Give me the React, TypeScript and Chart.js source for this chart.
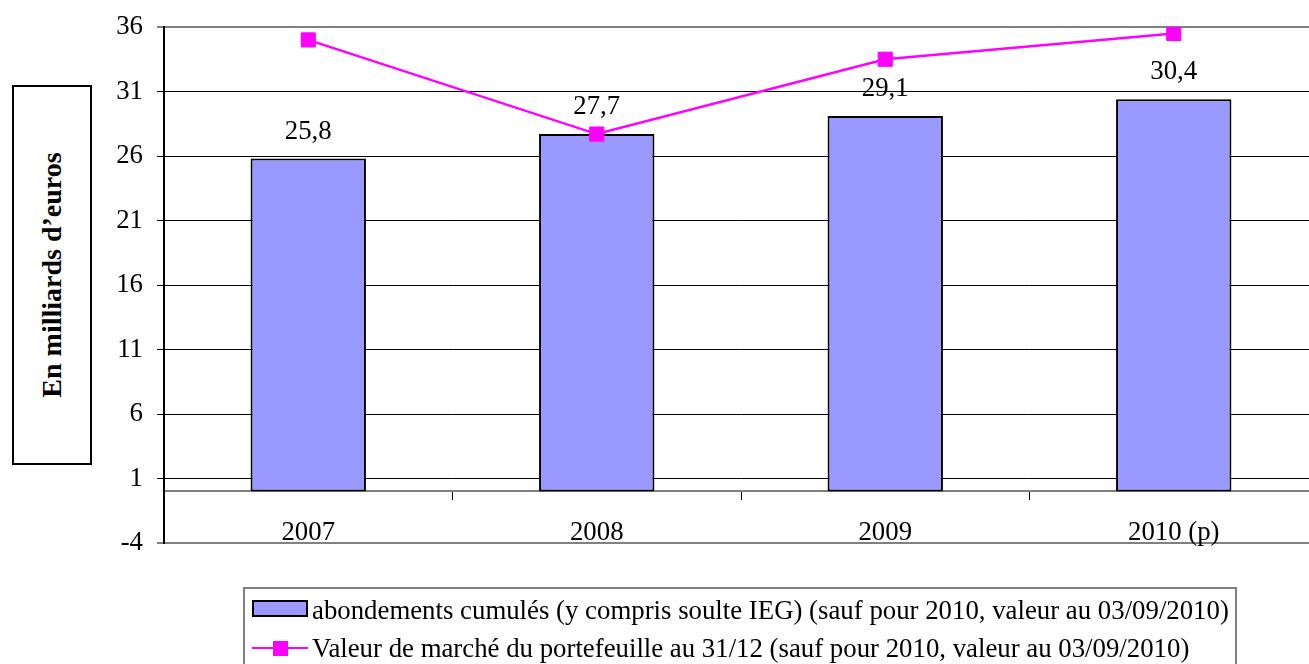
import React, { useEffect, useRef } from "react";
import { Chart, registerables } from "chart.js";

Chart.register(...registerables);

const categories = ["2007", "2008", "2009", "2010 (p)"];
const abondements = [25.8, 27.7, 29.1, 30.4];
const valeurMarche = [35.0, 27.7, 33.5, 35.5];
const yMin = -4;
const yMax = 36;
const yStep = 5;
const barLabel =
  "abondements cumulés (y compris soulte IEG) (sauf pour 2010, valeur au 03/09/2010)";
const lineLabel =
  "Valeur de marché du portefeuille au 31/12 (sauf pour 2010, valeur au 03/09/2010)";
const yTitle = "En milliards d’euros";

const FONT = '"Liberation Serif", "Times New Roman", serif';
const FS = 26.8;

const valueLabels = {
  id: "valueLabels",
  afterDatasetsDraw(chart: any) {
    const ctx = chart.ctx;
    const meta = chart.getDatasetMeta(0);
    ctx.save();
    ctx.font = `${FS}px ${FONT}`;
    ctx.fillStyle = "#000";
    ctx.textAlign = "center";
    ctx.textBaseline = "middle";
    meta.data.forEach((el: any, i: number) => {
      ctx.fillText(String(abondements[i]).replace(".", ","), el.x, el.y - 27);
    });
    ctx.restore();
  },
};

export default function App() {
  const ref = useRef<HTMLCanvasElement | null>(null);

  useEffect(() => {
    if (!ref.current) return;
    const chart = new Chart(ref.current, {
      type: "bar",
      data: {
        labels: categories,
        datasets: [
          {
            type: "bar",
            label: barLabel,
            data: abondements,
            backgroundColor: "#9999FF",
            borderColor: "#000",
            borderWidth: 2,
            borderSkipped: false,
            barPercentage: 0.4,
            categoryPercentage: 1.0,
            order: 2,
          } as any,
          {
            type: "line",
            label: lineLabel,
            data: valeurMarche,
            borderColor: "#FF00FF",
            backgroundColor: "#FF00FF",
            borderWidth: 2.5,
            pointStyle: "rect",
            pointRadius: 10,
            pointBackgroundColor: "#FF00FF",
            pointBorderColor: "#FF00FF",
            pointBorderWidth: 1,
            tension: 0,
            order: 1,
          } as any,
        ],
      },
      options: {
        responsive: false,
        animation: false,
        layout: { padding: { left: 0, top: 27, right: 3, bottom: 121 } },
        plugins: {
          legend: { display: false },
          tooltip: { enabled: false },
        },
        scales: {
          x: {
            position: { y: 0 } as any,
            offset: true,
            grid: {
              offset: true,
              drawOnChartArea: false,
              drawTicks: true,
              tickLength: 8,
              color: "#000",
              lineWidth: 1,
            },
            border: { color: "#808080", width: 2 },
            ticks: {
              font: { family: FONT, size: FS },
              color: "#000",
              padding: 17,
              maxRotation: 0,
            },
            afterFit: (s: any) => {
              s.paddingLeft = 0;
              s.paddingRight = 0;
              s.paddingTop = 0;
              s.paddingBottom = 0;
            },
          } as any,
          y: {
            min: yMin,
            max: yMax,
            ticks: {
              stepSize: yStep,
              font: { family: FONT, size: FS },
              color: "#000",
              padding: 14,
            },
            grid: {
              color: (c: any) =>
                c.tick && (c.tick.value === yMax || c.tick.value === yMin) ? "#808080" : "#000",
              lineWidth: (c: any) =>
                c.tick && (c.tick.value === yMax || c.tick.value === yMin) ? 2 : 1,
              tickLength: 7,
              tickColor: "#000",
              tickWidth: 1,
            },
            border: { color: "#000", width: 2 },
            afterFit: (s: any) => {
              s.width = 164;
              s.paddingTop = 0;
              s.paddingBottom = 0;
            },
          } as any,
        },
      },
      plugins: [valueLabels],
    });
    return () => chart.destroy();
  }, []);

  const textStyle: React.CSSProperties = {
    position: "absolute",
    fontFamily: FONT,
    fontSize: FS,
    lineHeight: "30px",
    whiteSpace: "nowrap",
    color: "#000",
  };

  return (
    <div
      style={{
        position: "fixed",
        left: 0,
        top: 0,
        width: 1309,
        height: 664,
        overflow: "hidden",
        background: "#fff",
      }}
    >
      <canvas
        ref={ref}
        width={1329}
        height={664}
        style={{ position: "absolute", left: 0, top: 0, width: 1329, height: 664 }}
      />
      {/* Y axis title box */}
      <div
        style={{
          position: "absolute",
          left: 12,
          top: 85,
          width: 80,
          height: 380,
          border: "2px solid #000",
          boxSizing: "border-box",
          background: "#fff",
        }}
      >
        <div
          style={{
            position: "absolute",
            left: "50%",
            top: "50%",
            transform: "translate(-50%, -50%) rotate(-90deg)",
            fontFamily: FONT,
            fontWeight: "bold",
            fontSize: 28,
            whiteSpace: "nowrap",
            color: "#000",
          }}
        >
          {yTitle}
        </div>
      </div>
      {/* Legend */}
      <div
        style={{
          position: "absolute",
          left: 243,
          top: 587,
          width: 994,
          height: 120,
          border: "2px solid #808080",
          boxSizing: "border-box",
        }}
      />
      <div
        style={{
          position: "absolute",
          left: 252,
          top: 600,
          width: 56,
          height: 17,
          background: "#9999FF",
          border: "2px solid #000",
          boxSizing: "border-box",
        }}
      />
      <div style={{ ...textStyle, left: 312, top: 610 - 15 }}>{barLabel}</div>
      <div
        style={{
          position: "absolute",
          left: 252,
          top: 647,
          width: 56,
          height: 2,
          background: "#FF00FF",
        }}
      />
      <div
        style={{
          position: "absolute",
          left: 273,
          top: 641,
          width: 15,
          height: 15,
          background: "#FF00FF",
        }}
      />
      <div style={{ ...textStyle, left: 312, top: 648 - 15 }}>{lineLabel}</div>
    </div>
  );
}
